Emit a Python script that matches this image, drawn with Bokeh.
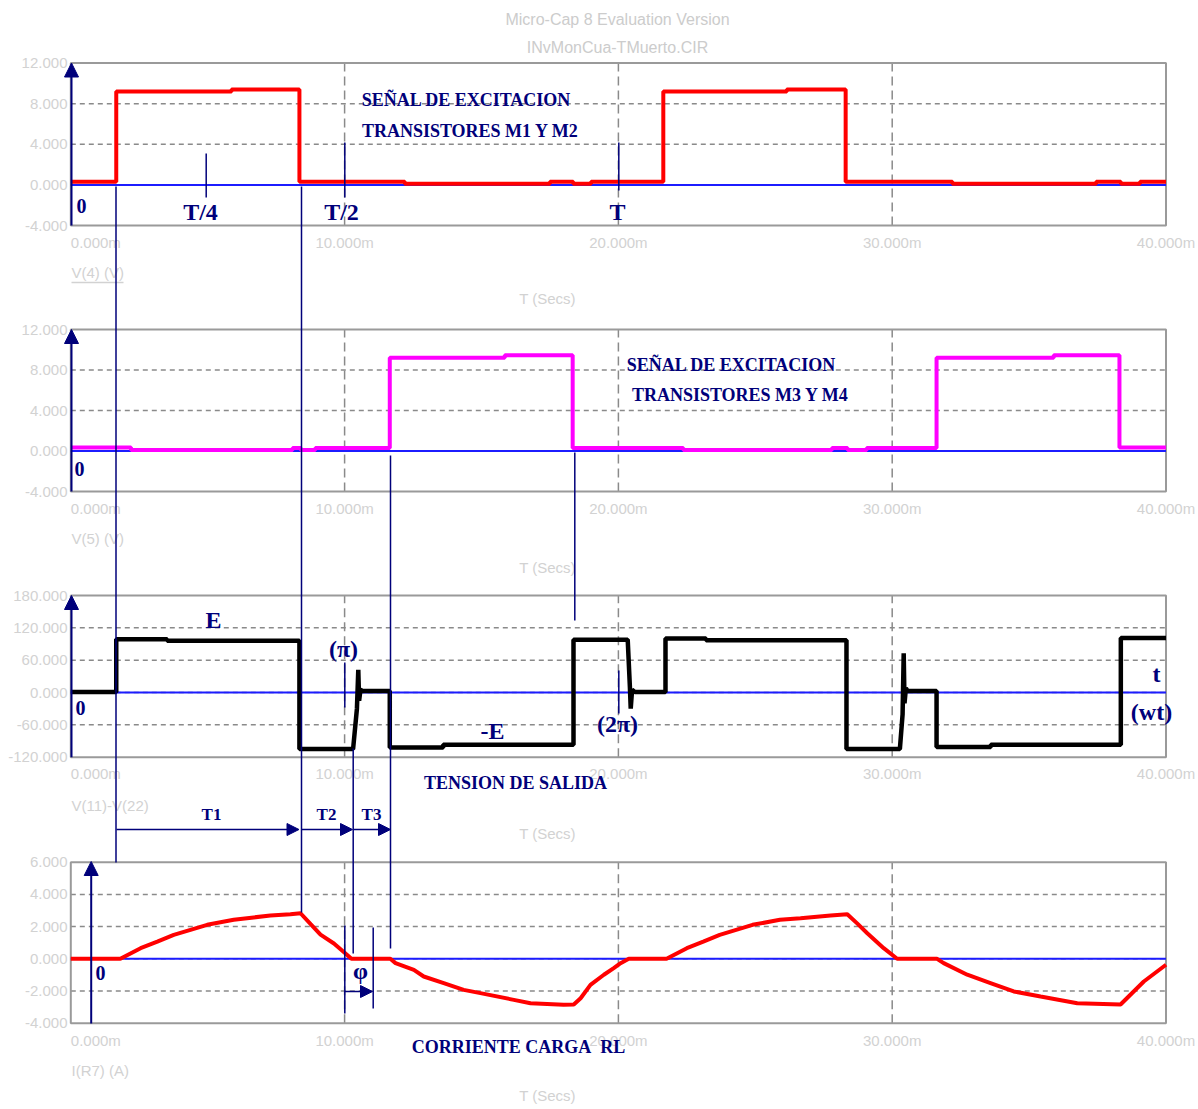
from bokeh.plotting import figure
from bokeh.models import Range1d, Arrow, NormalHead
from bokeh.core.properties import value
from bokeh.embed import file_html
from bokeh.resources import INLINE

# ---------------- data (time in ms) ----------------
t_v4 = [0, 1.66, 5.87, 8.35, 12.2, 17.5, 18.35, 19.0, 21.64, 26.15, 28.3, 32.2, 37.45, 38.35, 39.05, 40]
v_v4 = [0.3, 9.2, 9.4, 0.3, 0.1, 0.3, 0.1, 0.3, 9.2, 9.4, 0.3, 0.1, 0.3, 0.1, 0.3, 0.3]

t_v5 = [0, 2.2, 8.1, 8.4, 8.93, 11.65, 15.85, 18.33, 22.37, 27.8, 28.37, 29.07, 31.62, 35.9, 38.3, 40]
v_v5 = [0.35, 0.1, 0.3, 0.1, 0.3, 9.2, 9.45, 0.3, 0.1, 0.3, 0.1, 0.3, 9.2, 9.45, 0.35, 0.35]

t_out = [0, 1.66, 1.66, 3.52, 3.52, 8.35, 8.35, 10.31, 10.45, 10.5, 10.53, 10.58, 10.65,
         11.65, 11.65, 13.6, 13.6, 18.36, 18.36, 20.34, 20.42, 20.45, 20.5, 20.6,
         21.72, 21.72, 23.2, 23.2, 28.33, 28.33, 30.28, 30.38, 30.42, 30.45, 30.5, 30.56,
         31.62, 31.62, 33.6, 33.6, 38.35, 38.35, 40]
v_out = [1, 1, 99, 99, 96, 96, -105, -105, -30, 42, -15, 5, 3,
         3, -102, -102, -97, -97, 98, 98, 10, -30, 5, 1,
         1, 100, 100, 97, 97, -105, -105, -40, 73, -20, 8, 3,
         3, -101, -101, -97, -97, 101, 101]

t_i = [0, 1.81, 2.55, 3.16, 3.76, 4.37, 4.98, 5.95, 6.68, 7.29, 8.02, 8.39,
       8.76, 9.12, 9.61, 9.97, 10.25, 11.67,
       11.86, 12.53, 12.89, 13.62, 14.35, 14.96, 16.18, 16.79, 18.0, 18.37,
       18.62, 18.98, 19.47, 19.83, 20.08, 20.38, 21.76,
       22.5, 23.1, 23.7, 24.3, 24.9, 25.9, 26.65, 27.75, 28.36,
       28.72, 29.09, 29.69, 30.18, 31.64,
       31.88, 32.74, 33.59, 34.44, 35.42, 36.76, 38.34,
       38.82, 39.19, 40.0]
i_r7 = [0, 0, 0.66, 1.07, 1.49, 1.80, 2.11, 2.42, 2.57, 2.69, 2.77, 2.83,
        2.15, 1.5, 0.95, 0.42, 0, 0,
        -0.27, -0.69, -1.1, -1.51, -1.93, -2.13, -2.55, -2.76, -2.86, -2.84,
        -2.45, -1.62, -0.99, -0.58, -0.27, 0, 0,
        0.66, 1.07, 1.49, 1.80, 2.11, 2.42, 2.52, 2.69, 2.77,
        2.2, 1.59, 0.66, 0, 0,
        -0.27, -0.99, -1.51, -2.03, -2.34, -2.76, -2.84,
        -2.03, -1.41, -0.37]

x_ticks = [0, 10, 20, 30, 40]
x_tick_labels = ["0.000m", "10.000m", "20.000m", "30.000m", "40.000m"]

ticks_v = [-4, 0, 4, 8, 12]
labels_v = ["-4.000", "0.000", "4.000", "8.000", "12.000"]
ticks_out = [-120, -60, 0, 60, 120, 180]
labels_out = ["-120.000", "-60.000", "0.000", "60.000", "120.000", "180.000"]
ticks_i = [-4, -2, 0, 2, 4, 6]
labels_i = ["-4.000", "-2.000", "0.000", "2.000", "4.000", "6.000"]

# ---------------- layout (page pixels) ----------------
W, H = 1196, 1106
PX0, PX1 = 0, W
PY0, PY1 = 0, H
T0_PX, T40_PX = 70.3, 1165.5

panels = [
    dict(name="p1", lo=-4, hi=12, top=62.5, bot=225.0, ticks=ticks_v, labels=labels_v,
         xlab_y=242, sig="V(4) (V)", sig_y=272, secs_y=298),
    dict(name="p2", lo=-4, hi=12, top=329.0, bot=491.0, ticks=ticks_v, labels=labels_v,
         xlab_y=508, sig="V(5) (V)", sig_y=538, secs_y=567),
    dict(name="p3", lo=-120, hi=180, top=595.0, bot=756.7, ticks=ticks_out, labels=labels_out,
         xlab_y=773, sig="V(11)-V(22)", sig_y=805, secs_y=833),
    dict(name="p4", lo=-4, hi=6, top=861.7, bot=1022.7, ticks=ticks_i, labels=labels_i,
         xlab_y=1040, sig="I(R7) (A)", sig_y=1070, secs_y=1095),
]

NAVY = "#00007a"
GRAY_TXT = "#d2d2d2"
GRID = "#8a8a8a"
BORDER = "#9a9a9a"
SERIF = value("Liberation Serif")
SANS = value("Liberation Sans")

p = figure(width=W, height=H, x_range=Range1d(PX0, PX1), y_range=Range1d(PY1, PY0),
           output_backend="svg", toolbar_location=None, x_axis_location=None,
           y_axis_location=None, min_border=0, outline_line_color=None)
p.grid.visible = False
p.background_fill_color = "white"

kt = 40.0 / (T40_PX - T0_PX)
p.extra_x_ranges = {"t": Range1d((PX0 - T0_PX) * kt, (PX1 - T0_PX) * kt)}
yr = {}
for pn in panels:
    k = (pn["hi"] - pn["lo"]) / (pn["bot"] - pn["top"])
    yr[pn["name"]] = Range1d(pn["lo"] - (PY1 - pn["bot"]) * k, pn["hi"] + (pn["top"] - PY0) * k)
p.extra_y_ranges = yr

gray = dict(text_font=SANS, text_font_size="15px", text_color=GRAY_TXT, text_baseline="middle")

# ---------------- titles ----------------
p.text(x=[617, 617], y=[19, 47], text=["Micro-Cap 8 Evaluation Version", "INvMonCua-TMuerto.CIR"],
       text_align="center", text_font=SANS, text_font_size="16px", text_color="#cccccc",
       text_baseline="middle")

# ---------------- panel frames, grids, tick labels ----------------
for pn in panels:
    nm = pn["name"]
    inner = [v for v in pn["ticks"] if v not in (pn["lo"], pn["hi"])]
    p.segment(x0=[0] * len(inner), x1=[40] * len(inner), y0=inner, y1=inner,
              x_range_name="t", y_range_name=nm, line_color=GRID, line_width=1.5, line_dash="5 4")
    p.segment(x0=[10, 20, 30], x1=[10, 20, 30], y0=[pn["lo"]] * 3, y1=[pn["hi"]] * 3,
              x_range_name="t", y_range_name=nm, line_color=GRID, line_width=1.5, line_dash="9 5")
    p.quad(left=[0], right=[40], bottom=[pn["lo"]], top=[pn["hi"]], x_range_name="t",
           y_range_name=nm, fill_alpha=0, line_color=BORDER, line_width=2)
    p.segment(x0=[0], x1=[40], y0=[0], y1=[0], x_range_name="t", y_range_name=nm,
              line_color="#1c1cff", line_width=2)
    p.text(x=[67] * len(pn["ticks"]), y=pn["ticks"], text=pn["labels"], y_range_name=nm,
           text_align="right", **gray)
    p.text(x=x_ticks[:1], y=[pn["xlab_y"]], text=x_tick_labels[:1], x_range_name="t",
           text_align="left", **gray)
    p.text(x=x_ticks[1:], y=[pn["xlab_y"]] * 4, text=x_tick_labels[1:], x_range_name="t",
           text_align="center", **gray)
    p.text(x=[71], y=[pn["sig_y"]], text=[pn["sig"]], text_align="left", **gray)
    p.text(x=[547], y=[pn["secs_y"]], text=["T (Secs)"], text_align="center", **gray)

p.segment(x0=[71], x1=[123], y0=[282], y1=[282], line_color=GRAY_TXT, line_width=1.5)

# ---------------- waveforms ----------------
p.step(t_v4, v_v4, mode="after", x_range_name="t", y_range_name="p1",
       line_color="#ff0000", line_width=4)
p.step(t_v5, v_v5, mode="after", x_range_name="t", y_range_name="p2",
       line_color="#ff00ff", line_width=4)
p.line(t_out, v_out, x_range_name="t", y_range_name="p3", line_color="black", line_width=4.5)
p.line(t_i, i_r7, x_range_name="t", y_range_name="p4", line_color="#ff0000", line_width=4)

# ---------------- annotations ----------------
for pn in panels[:3]:
    p.add_layout(Arrow(end=NormalHead(size=14, fill_color=NAVY, line_color=NAVY),
                       x_start=71, x_end=71, y_start=pn["lo"], y_end=pn["hi"],
                       y_range_name=pn["name"], line_color=NAVY, line_width=2))
p.add_layout(Arrow(end=NormalHead(size=14, fill_color=NAVY, line_color=NAVY),
                   x_start=90.7, x_end=90.7, y_start=1023, y_end=861,
                   line_color=NAVY, line_width=2))

gx = [115.5, 301, 352.7, 390, 574.3, 205.7, 344.3, 618.3, 344.3, 618.3, 344.3, 372.7]
gy0 = [186, 186, 748, 455, 452, 153, 142, 142, 662, 670, 925, 927]
gy1 = [862, 912, 953, 948, 620, 197, 197, 190, 707, 713, 1013, 1008]
p.segment(x0=gx, x1=gx, y0=gy0, y1=gy1, line_color=NAVY, line_width=1.5)

for xs, xe, y in [(116, 298.5, 829), (301, 352, 829), (353, 390, 829), (344.3, 372, 991)]:
    p.add_layout(Arrow(end=NormalHead(size=12, fill_color=NAVY, line_color=NAVY),
                       x_start=xs, x_end=xe, y_start=y, y_end=y, line_color=NAVY, line_width=1.5))

big = dict(text_font=SERIF, text_font_style="bold", text_color=NAVY,
           text_align="center", text_baseline="middle")
p.text(x=[466, 470, 731, 740, 515, 518],
       y=[99, 130, 364, 394, 782, 1046],
       text=["SEÑAL DE EXCITACION", "TRANSISTORES M1 Y M2",
             "SEÑAL DE EXCITACION", "TRANSISTORES M3 Y M4",
             "TENSION DE SALIDA", "CORRIENTE CARGA\u00a0 RL"],
       text_font_size="18px", **big)
p.text(x=[200, 341, 617, 213, 343, 492, 617, 1156, 1151, 360],
       y=[211, 211, 211, 619, 648, 730, 723, 673, 711, 970],
       text=["T/4", "T/2", "T", "E", "(π)", "-E", "(2π)", "t", "(wt)", "φ"],
       text_font_size="24px", **big)
p.text(x=[211, 326, 371], y=[814, 814, 814], text=["T1", "T2", "T3"],
       text_font_size="17px", **big)
p.text(x=[81, 79, 80, 100], y=[205, 468, 707, 972], text=["0", "0", "0", "0"],
       text_font_size="20px", **big)

open("out.html", "w").write(file_html(p, INLINE))
